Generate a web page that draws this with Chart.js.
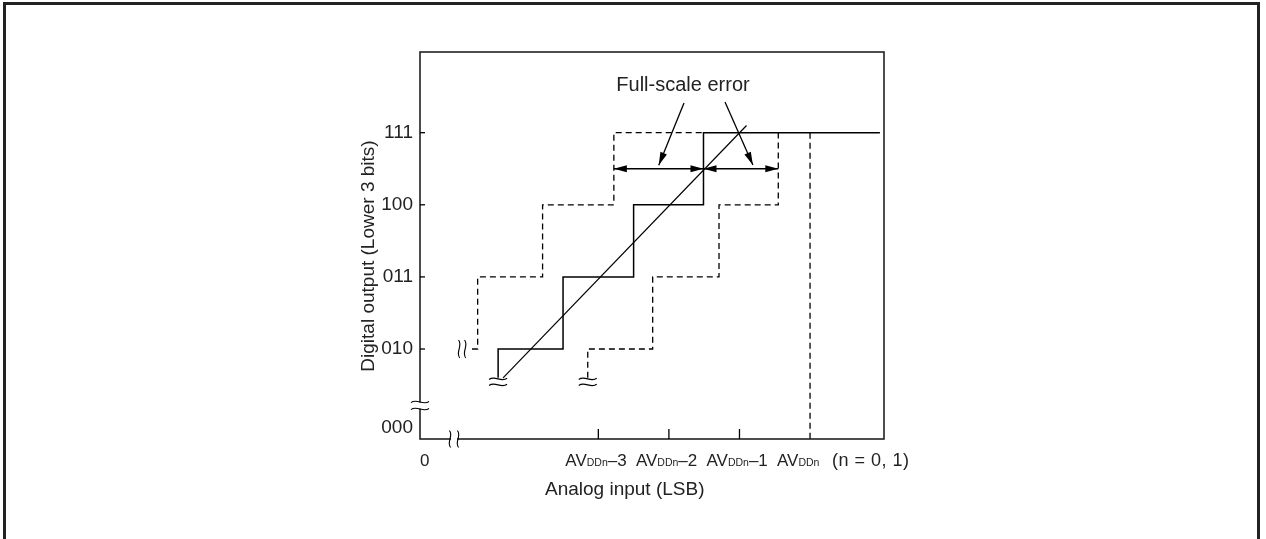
<!DOCTYPE html>
<html>
<head>
<meta charset="utf-8">
<script src="https://cdn.jsdelivr.net/npm/chart.js@4/dist/chart.umd.min.js"></script>
<style>
  html, body { margin: 0; padding: 0; background: #fff; }
  #wrap { width: 1266px; height: 539px; }
</style>
</head>
<body>
<div id="wrap"><canvas id="adcChart" width="1266" height="539"></canvas></div>
<script>
// x: analog input in LSB (AVDDn = 8), y: code position (010 = 4 ... 111 = 7)
const xTickValues = [2.473, 5, 6, 7, 8];
const xTickMain   = ['0', 'AV', 'AV', 'AV', 'AV'];
const xTickSub    = ['', 'DDn', 'DDn', 'DDn', 'DDn'];
const xTickTail   = ['', '–3', '–2', '–1', ''];
const xMarkValues = [5, 6, 7];

const yTickValues = [2.911, 4, 5, 6, 7];
const yTickLabels = ['000', '010', '011', '100', '111'];
const yMarkValues = [4, 5, 6, 7];

const idealSteps = [[3.58, 3.6], [3.58, 4], [4.5, 4], [4.5, 5], [5.5, 5], [5.5, 6], [6.49, 6], [6.49, 7], [8.99, 7]];
const upperSteps = [[3.21, 4], [3.29, 4], [3.29, 5], [4.21, 5], [4.21, 6], [5.22, 6], [5.22, 7], [6.49, 7]];
const lowerSteps = [[4.85, 3.6], [4.85, 4], [5.77, 4], [5.77, 5], [6.71, 5], [6.71, 6], [7.55, 6], [7.55, 7]];
const idealLine  = [[3.65, 3.6], [7.1, 7.1]];
const fullScale  = [[8, 7], [8, 2.752]];

const errorSpans = [[5.22, 6.49], [6.49, 7.55]];
const errorSpanY = 6.5;
const pointers   = [[6.214, 7.412, 5.856, 6.55], [6.795, 7.426, 7.19, 6.552]];
const noteText   = 'Full-scale error';
const notePos    = [6.2, 7.66];

// break marks: [x, y]
const hWaves = [[3.579, 3.544], [4.85, 3.544]];
const vWaves = [[3.07, 4]];
const yBreak = [2.473, 3.216];
const xBreak = [2.955, 2.752];

const FONT = '"Liberation Sans", Arial, sans-serif';
const toXY = arr => arr.map(p => ({ x: p[0], y: p[1] }));

function tilde(ctx, cx, cy, w, a) {
  ctx.beginPath();
  ctx.moveTo(cx - w / 2, cy + a * 0.3);
  ctx.bezierCurveTo(cx - w / 6, cy - 2 * a, cx + w / 6, cy + 2 * a, cx + w / 2, cy - a * 0.3);
  ctx.stroke();
}
function tildeV(ctx, cx, cy, h, a) {
  ctx.beginPath();
  ctx.moveTo(cx - a * 0.3, cy - h / 2);
  ctx.bezierCurveTo(cx + 2 * a, cy - h / 6, cx - 2 * a, cy + h / 6, cx + a * 0.3, cy + h / 2);
  ctx.stroke();
}
function arrowHead(ctx, x1, y1, x2, y2, len, half) {
  const ang = Math.atan2(y2 - y1, x2 - x1);
  ctx.beginPath();
  ctx.moveTo(x2, y2);
  ctx.lineTo(x2 - len * Math.cos(ang) + half * Math.sin(ang), y2 - len * Math.sin(ang) - half * Math.cos(ang));
  ctx.lineTo(x2 - len * Math.cos(ang) - half * Math.sin(ang), y2 - len * Math.sin(ang) + half * Math.cos(ang));
  ctx.closePath();
  ctx.fill();
}

const decor = {
  id: 'decor',
  beforeDraw(chart) {
    const { ctx, chartArea: { left, right, top, bottom } } = chart;
    ctx.save();
    ctx.strokeStyle = '#222';
    ctx.lineWidth = 3;
    ctx.strokeRect(4.5, 3.5, 1254, 600);
    ctx.lineWidth = 1.6;
    ctx.strokeRect(left, top, right - left, bottom - top);
    ctx.restore();
  },
  afterDraw(chart) {
    const { ctx, chartArea: { left, bottom } } = chart;
    const xs = chart.scales.x, ys = chart.scales.y;
    ctx.save();
    ctx.strokeStyle = '#000';
    ctx.fillStyle = '#000';
    ctx.lineWidth = 1.3;

    // tick marks inside the box
    yMarkValues.forEach(v => {
      const py = ys.getPixelForValue(v);
      ctx.beginPath(); ctx.moveTo(left, py); ctx.lineTo(left + 5, py); ctx.stroke();
    });
    xMarkValues.forEach(v => {
      const px = xs.getPixelForValue(v);
      ctx.beginPath(); ctx.moveTo(px, bottom); ctx.lineTo(px, bottom - 10); ctx.stroke();
    });

    // x tick labels with small DDn part
    const fMain = '17px ' + FONT, fSub = '10.5px ' + FONT;
    ctx.fillStyle = '#222';
    ctx.textBaseline = 'alphabetic';
    const by = 466;
    xTickValues.forEach((v, i) => {
      let px = xs.getPixelForValue(v) + (i === 0 ? 0 : -33);
      ctx.font = fMain; ctx.fillText(xTickMain[i], px, by); px += ctx.measureText(xTickMain[i]).width;
      ctx.font = fSub;  ctx.fillText(xTickSub[i], px, by);  px += ctx.measureText(xTickSub[i]).width;
      ctx.font = fMain; ctx.fillText(xTickTail[i], px, by);
    });
    ctx.font = '18px ' + FONT;
    ctx.letterSpacing = '0.5px';
    ctx.fillText('(n = 0, 1)', 832, by);
    ctx.letterSpacing = '0px';

    // axis titles
    ctx.font = '19px ' + FONT;
    ctx.textAlign = 'left';
    ctx.fillText('Analog input (LSB)', 545, 495);
    ctx.save();
    ctx.translate(374, 256);
    ctx.rotate(-Math.PI / 2);
    ctx.textAlign = 'center';
    ctx.fillText('Digital output (Lower 3 bits)', 0, 0);
    ctx.restore();

    // annotation
    ctx.font = '20px ' + FONT;
    ctx.textAlign = 'center';
    ctx.textBaseline = 'middle';
    ctx.fillText(noteText, xs.getPixelForValue(notePos[0]), ys.getPixelForValue(notePos[1]));
    ctx.fillStyle = '#000';
    ctx.lineWidth = 1.3;
    pointers.forEach(p => {
      const x1 = xs.getPixelForValue(p[0]), y1 = ys.getPixelForValue(p[1]);
      const x2 = xs.getPixelForValue(p[2]), y2 = ys.getPixelForValue(p[3]);
      ctx.beginPath(); ctx.moveTo(x1, y1); ctx.lineTo(x2, y2); ctx.stroke();
      arrowHead(ctx, x1, y1, x2, y2, 13, 3.5);
    });
    const ay = ys.getPixelForValue(errorSpanY);
    errorSpans.forEach(s => {
      const a = xs.getPixelForValue(s[0]), b = xs.getPixelForValue(s[1]);
      ctx.beginPath(); ctx.moveTo(a, ay); ctx.lineTo(b, ay); ctx.stroke();
      arrowHead(ctx, b, ay, a, ay, 13, 3.5);
      arrowHead(ctx, a, ay, b, ay, 13, 3.5);
    });

    // break marks
    ctx.lineWidth = 1.1;
    hWaves.forEach(p => {
      const cx = xs.getPixelForValue(p[0]), cy = ys.getPixelForValue(p[1]);
      tilde(ctx, cx, cy - 3, 18, 2); tilde(ctx, cx, cy + 3, 18, 2);
    });
    vWaves.forEach(p => {
      const cx = xs.getPixelForValue(p[0]), cy = ys.getPixelForValue(p[1]);
      tildeV(ctx, cx - 3, cy, 18, 2); tildeV(ctx, cx + 3, cy, 18, 2);
    });
    {
      const cx = xs.getPixelForValue(yBreak[0]), cy = ys.getPixelForValue(yBreak[1]);
      ctx.fillStyle = '#fff'; ctx.fillRect(cx - 3, cy - 3, 6, 6);
      tilde(ctx, cx, cy - 3.5, 18, 2); tilde(ctx, cx, cy + 3.5, 18, 2);
    }
    {
      const cx = xs.getPixelForValue(xBreak[0]), cy = ys.getPixelForValue(xBreak[1]);
      ctx.fillStyle = '#fff'; ctx.fillRect(cx - 3, cy - 3, 6, 6);
      tildeV(ctx, cx - 4, cy, 17, 2); tildeV(ctx, cx + 4, cy, 17, 2);
    }
    ctx.restore();
  }
};

const solid  = { borderColor: '#000', borderWidth: 1.5, pointRadius: 0, showLine: true, fill: false };
const dashed = { borderColor: '#000', borderWidth: 1.3, borderDash: [6, 4], pointRadius: 0, showLine: true, fill: false };

new Chart(document.getElementById('adcChart'), {
  type: 'scatter',
  data: {
    datasets: [
      { data: toXY(idealSteps), ...solid },
      { data: toXY(upperSteps), ...dashed },
      { data: toXY(lowerSteps), ...dashed },
      { data: toXY(idealLine), ...solid, borderWidth: 1.2 },
      { data: toXY(fullScale), ...dashed }
    ]
  },
  options: {
    responsive: false,
    animation: false,
    layout: { padding: { top: 52, right: 382, bottom: 0, left: 360 } },
    plugins: { legend: { display: false }, tooltip: { enabled: false } },
    scales: {
      x: {
        type: 'linear', min: 2.473, max: 9.048,
        ticks: { display: false },
        grid: { display: false },
        border: { display: false },
        afterFit: s => { s.height = 100; }
      },
      y: {
        type: 'linear', min: 2.752, max: 8.119,
        afterBuildTicks: s => { s.ticks = yTickValues.map(v => ({ value: v })); },
        ticks: {
          autoSkip: false,
          padding: 7,
          color: '#222',
          font: { family: FONT, size: 19 },
          callback: (v, i) => yTickLabels[i]
        },
        grid: { display: false, drawTicks: false },
        border: { display: false },
        afterFit: s => { s.width = 60; }
      }
    }
  },
  plugins: [decor]
});
</script>
</body>
</html>
